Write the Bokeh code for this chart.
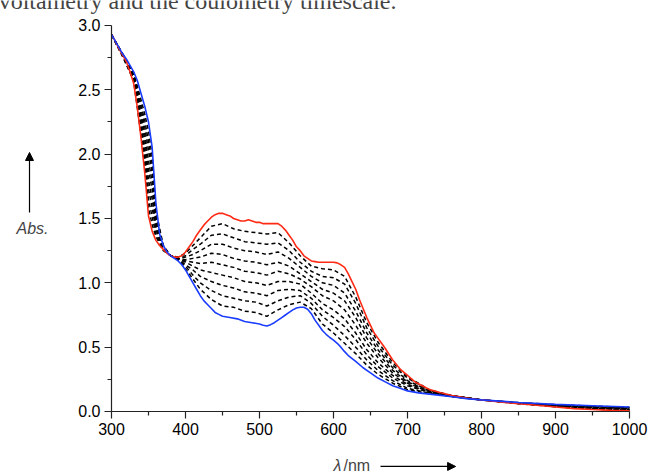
from bokeh.plotting import figure
from bokeh.models import Range1d, Label, Arrow, NormalHead, FixedTicker, PrintfTickFormatter
from bokeh.embed import file_html
from bokeh.resources import INLINE

# ---- red (initial) spectrum ----
wl_red = [300, 305, 310, 315, 320, 325, 330, 335, 340, 345, 350, 355, 360, 365, 370, 375, 380, 385,
          390, 395, 400, 405, 410, 415, 420, 425, 430, 435, 440, 445, 450, 455, 460, 465, 470, 475,
          480, 485, 490, 495, 500, 505, 510, 515, 520, 525, 530, 535, 540, 545, 550, 555, 560, 565,
          570, 575, 580, 590, 600, 605, 610, 615, 620, 625, 630, 635, 640, 645, 650, 655, 660, 665,
          670, 680, 690, 700, 710, 720, 730, 745, 760, 780, 800, 825, 850, 875, 900, 925, 950, 975, 1000]
red = [2.93, 2.88, 2.82, 2.77, 2.72, 2.64, 2.55, 2.36, 2.12, 1.85, 1.52, 1.40, 1.33, 1.29, 1.26, 1.23, 1.21, 1.20,
       1.20, 1.21, 1.24, 1.28, 1.32, 1.37, 1.41, 1.45, 1.48, 1.51, 1.53, 1.54, 1.54, 1.53, 1.52, 1.50, 1.49, 1.48,
       1.48, 1.49, 1.48, 1.47, 1.47, 1.46, 1.46, 1.46, 1.46, 1.46, 1.44, 1.41, 1.37, 1.33, 1.28, 1.25, 1.21, 1.19,
       1.17, 1.165, 1.16, 1.16, 1.16, 1.155, 1.14, 1.12, 1.07, 1.01, 0.95, 0.87, 0.80, 0.73, 0.67, 0.61, 0.57, 0.53,
       0.49, 0.40, 0.33, 0.28, 0.23, 0.20, 0.17, 0.145, 0.125, 0.105, 0.09, 0.075, 0.06, 0.048, 0.035, 0.022, 0.015, 0.009, 0.005]

# ---- blue (final) spectrum ----
wl_blue = [300, 305, 310, 315, 320, 325, 330, 335, 340, 345, 350, 355, 360, 365, 370, 375, 380, 385,
           390, 395, 400, 405, 410, 415, 420, 425, 430, 435, 440, 445, 450, 460, 470, 480, 490, 500,
           505, 510, 515, 520, 525, 530, 535, 540, 545, 550, 555, 560, 565, 570, 575, 580, 585, 590,
           595, 600, 605, 610, 615, 620, 630, 640, 650, 660, 670, 680, 690, 700, 715, 730, 745, 760,
           780, 800, 850, 900, 950, 1000]
blue = [2.93, 2.88, 2.83, 2.78, 2.74, 2.69, 2.64, 2.57, 2.47, 2.37, 2.25, 2.05, 1.62, 1.38, 1.29, 1.24, 1.21, 1.19,
        1.17, 1.14, 1.10, 1.05, 1.00, 0.95, 0.90, 0.86, 0.83, 0.80, 0.77, 0.755, 0.74, 0.73, 0.72, 0.70, 0.69, 0.68,
        0.67, 0.665, 0.675, 0.69, 0.71, 0.73, 0.75, 0.77, 0.79, 0.805, 0.81, 0.81, 0.795, 0.76, 0.71, 0.67, 0.63, 0.60,
        0.575, 0.555, 0.53, 0.50, 0.465, 0.435, 0.39, 0.34, 0.30, 0.26, 0.23, 0.20, 0.18, 0.16, 0.145, 0.135, 0.125, 0.115,
        0.10, 0.09, 0.07, 0.055, 0.045, 0.035]

# ---- intermediate spectra (dashed) ----
wl = [300, 315, 330, 340, 345, 350, 355, 360, 370, 380, 390, 400, 410, 420, 435,
      450, 465, 480, 495, 510, 525, 540, 555, 570, 585, 600, 615, 630, 645, 660,
      680, 700, 730, 760, 800, 850, 900, 950, 1000]
d1 = [2.93, 2.76, 2.57, 2.14, 1.90, 1.58, 1.45, 1.36, 1.25, 1.21, 1.20, 1.23, 1.29, 1.35, 1.44,
      1.46, 1.42, 1.40, 1.39, 1.38, 1.39, 1.31, 1.21, 1.13, 1.11, 1.10, 1.05, 0.89, 0.69, 0.54,
      0.38, 0.27, 0.167, 0.124, 0.09, 0.061, 0.037, 0.018, 0.008]
d2 = [2.93, 2.76, 2.58, 2.17, 1.95, 1.65, 1.51, 1.38, 1.26, 1.21, 1.20, 1.21, 1.26, 1.30, 1.37,
      1.38, 1.35, 1.32, 1.31, 1.30, 1.31, 1.25, 1.16, 1.09, 1.05, 1.04, 0.99, 0.84, 0.65, 0.51,
      0.36, 0.26, 0.163, 0.123, 0.09, 0.062, 0.039, 0.021, 0.011]
d3 = [2.93, 2.77, 2.58, 2.21, 2.00, 1.73, 1.58, 1.41, 1.26, 1.21, 1.19, 1.20, 1.22, 1.25, 1.30,
      1.30, 1.27, 1.25, 1.24, 1.22, 1.24, 1.19, 1.12, 1.05, 1.00, 0.98, 0.92, 0.78, 0.61, 0.48,
      0.34, 0.24, 0.160, 0.122, 0.09, 0.063, 0.041, 0.024, 0.014]
d4 = [2.93, 2.77, 2.59, 2.24, 2.05, 1.80, 1.65, 1.43, 1.27, 1.21, 1.19, 1.18, 1.19, 1.20, 1.23,
      1.22, 1.19, 1.17, 1.16, 1.14, 1.16, 1.13, 1.07, 1.01, 0.95, 0.92, 0.86, 0.73, 0.57, 0.45,
      0.32, 0.23, 0.156, 0.121, 0.09, 0.064, 0.043, 0.027, 0.017]
d5 = [2.93, 2.77, 2.60, 2.28, 2.11, 1.88, 1.72, 1.46, 1.27, 1.21, 1.19, 1.17, 1.16, 1.15, 1.16,
      1.14, 1.12, 1.09, 1.08, 1.06, 1.09, 1.07, 1.03, 0.97, 0.90, 0.86, 0.79, 0.67, 0.53, 0.42,
      0.30, 0.22, 0.153, 0.120, 0.09, 0.065, 0.045, 0.030, 0.020]
d6 = [2.93, 2.77, 2.61, 2.31, 2.16, 1.95, 1.78, 1.48, 1.27, 1.21, 1.19, 1.16, 1.13, 1.10, 1.08,
      1.06, 1.04, 1.01, 1.00, 0.98, 1.01, 1.01, 0.99, 0.92, 0.84, 0.79, 0.72, 0.61, 0.48, 0.38,
      0.28, 0.21, 0.149, 0.119, 0.09, 0.066, 0.047, 0.033, 0.023]
d7 = [2.93, 2.77, 2.62, 2.35, 2.21, 2.03, 1.85, 1.51, 1.28, 1.21, 1.19, 1.14, 1.10, 1.05, 1.01,
      0.98, 0.96, 0.93, 0.92, 0.90, 0.94, 0.95, 0.94, 0.88, 0.79, 0.73, 0.66, 0.56, 0.44, 0.35,
      0.26, 0.20, 0.146, 0.118, 0.09, 0.067, 0.049, 0.036, 0.026]
d8 = [2.93, 2.78, 2.62, 2.38, 2.26, 2.10, 1.92, 1.53, 1.28, 1.21, 1.18, 1.13, 1.06, 1.00, 0.94,
      0.90, 0.88, 0.86, 0.85, 0.82, 0.86, 0.89, 0.90, 0.84, 0.74, 0.67, 0.59, 0.50, 0.40, 0.32,
      0.24, 0.18, 0.142, 0.117, 0.09, 0.068, 0.051, 0.039, 0.029]
d9 = [2.93, 2.78, 2.63, 2.42, 2.31, 2.18, 1.98, 1.56, 1.29, 1.21, 1.18, 1.11, 1.03, 0.95, 0.87,
      0.82, 0.81, 0.78, 0.77, 0.74, 0.79, 0.83, 0.85, 0.80, 0.68, 0.61, 0.53, 0.45, 0.36, 0.29,
      0.22, 0.17, 0.139, 0.116, 0.09, 0.069, 0.053, 0.042, 0.032]
dashed = [d1, d2, d3, d4, d5, d6, d7, d8, d9]

x_ticks = [300, 400, 500, 600, 700, 800, 900, 1000]
x_minor = [350, 450, 550, 650, 750, 850, 950]
y_ticks = [0.0, 0.5, 1.0, 1.5, 2.0, 2.5, 3.0]
y_minor = [0.25, 0.75, 1.25, 1.75, 2.25, 2.75]

FONT = "Liberation Sans"

# frame covers the whole canvas; axes are pinned at data locations
p = figure(width=653, height=475, output_backend="svg", toolbar_location=None,
           x_range=Range1d(150.0, 1032.43), y_range=Range1d(-0.4974, 3.1942),
           min_border=0, title=None)
p.outline_line_color = None
p.xgrid.visible = False
p.ygrid.visible = False
p.background_fill_color = "white"
p.border_fill_color = "white"

xa = p.xaxis[0]
ya = p.yaxis[0]
xa.fixed_location = 0.0
ya.fixed_location = 300
xa.bounds = (300, 1000)
ya.bounds = (0, 3.0)
xa.ticker = FixedTicker(ticks=x_ticks, minor_ticks=x_minor)
ya.ticker = FixedTicker(ticks=y_ticks, minor_ticks=y_minor)
ya.formatter = PrintfTickFormatter(format="%.1f")
for ax in (xa, ya):
    ax.axis_line_color = "#222222"
    ax.axis_line_width = 1.2
    ax.major_tick_line_color = "#222222"
    ax.minor_tick_line_color = "#222222"
    ax.major_tick_line_width = 1.2
    ax.minor_tick_line_width = 1.2
    ax.major_tick_out = 7
    ax.major_tick_in = 0
    ax.minor_tick_out = 4
    ax.minor_tick_in = 0
    ax.major_label_text_font = FONT
    ax.major_label_text_font_size = "16px"
    ax.major_label_text_color = "black"
xa.major_label_standoff = 5
ya.major_label_standoff = 4

for d in dashed:
    p.line(wl, d, line_color="black", line_width=1.5, line_dash="4 3")
p.line(wl_red, red, line_color="#ff2a14", line_width=1.6)
p.line(wl_blue, blue, line_color="#1a3cff", line_width=1.6)

# axis titles
p.add_layout(Label(x=193.2, y=1.422, text="Abs.", text_font=FONT, text_font_size="16px",
                   text_font_style="italic", text_align="center", text_baseline="middle"))
p.add_layout(Arrow(x_start=189.2, y_start=1.547, x_end=189.2, y_end=2.013,
                   line_color="black", line_width=1.2,
                   end=NormalHead(size=8, fill_color="black", line_color="black")))
p.add_layout(Label(x=600, y=-0.42, text="λ", text_font=FONT, text_font_size="16px",
                   text_font_style="italic", text_align="left", text_baseline="middle"))
p.add_layout(Label(x=613.5, y=-0.42, text="/nm", text_font=FONT, text_font_size="16px",
                   text_align="left", text_baseline="middle"))
p.add_layout(Arrow(x_start=663.5, y_start=-0.427, x_end=765, y_end=-0.427,
                   line_color="black", line_width=1.2,
                   end=NormalHead(size=8, fill_color="black", line_color="black")))
# caption text of the page, cut by the top edge as in the reference
p.add_layout(Label(x=147.5, y=3.0917, text="voltametry and the coulometry timescale.",
                   text_font="Liberation Serif", text_font_size="24px",
                   text_baseline="bottom", text_align="left"))

open("out.html", "w").write(file_html(p, INLINE))
